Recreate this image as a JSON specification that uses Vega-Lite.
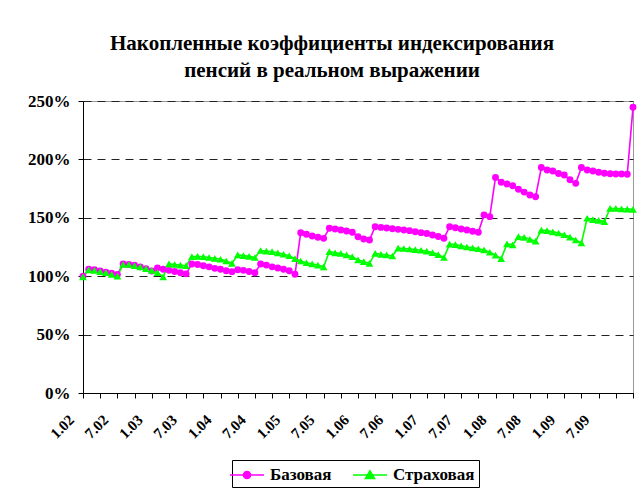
{
  "$schema": "https://vega.github.io/schema/vega-lite/v6.json",
  "autosize": "none",
  "width": 550,
  "height": 292,
  "padding": {"left": 83, "top": 101, "right": 8, "bottom": 98},
  "background": "white",
  "title": {
    "text": ["Накопленные коэффициенты индексирования", "пенсий в реальном выражении"],
    "font": "Liberation Serif", "fontSize": 21, "fontWeight": "bold", "color": "black",
    "anchor": "middle", "dx": -26, "offset": 11, "lineHeight": 27
  },
  "datasets": {
    "pens": [
      {"m":"1.02","s":"Базовая","v":100},{"m":"2.02","s":"Базовая","v":106},{"m":"3.02","s":"Базовая","v":105.5},{"m":"4.02","s":"Базовая","v":104.5},{"m":"5.02","s":"Базовая","v":103.5},{"m":"6.02","s":"Базовая","v":102.5},{"m":"7.02","s":"Базовая","v":101.5},{"m":"8.02","s":"Базовая","v":110.5},{"m":"9.02","s":"Базовая","v":110},{"m":"10.02","s":"Базовая","v":109.5},{"m":"11.02","s":"Базовая","v":108},{"m":"12.02","s":"Базовая","v":106.5},
      {"m":"1.03","s":"Базовая","v":104.5},{"m":"2.03","s":"Базовая","v":107},{"m":"3.03","s":"Базовая","v":106},{"m":"4.03","s":"Базовая","v":105},{"m":"5.03","s":"Базовая","v":104},{"m":"6.03","s":"Базовая","v":103},{"m":"7.03","s":"Базовая","v":102},{"m":"8.03","s":"Базовая","v":110.5},{"m":"9.03","s":"Базовая","v":110},{"m":"10.03","s":"Базовая","v":109},{"m":"11.03","s":"Базовая","v":108},{"m":"12.03","s":"Базовая","v":106.7},
      {"m":"1.04","s":"Базовая","v":105.9},{"m":"2.04","s":"Базовая","v":104.7},{"m":"3.04","s":"Базовая","v":103.9},{"m":"4.04","s":"Базовая","v":105.5},{"m":"5.04","s":"Базовая","v":105},{"m":"6.04","s":"Базовая","v":104},{"m":"7.04","s":"Базовая","v":103},{"m":"8.04","s":"Базовая","v":110.4},{"m":"9.04","s":"Базовая","v":109.5},{"m":"10.04","s":"Базовая","v":108},{"m":"11.04","s":"Базовая","v":107},{"m":"12.04","s":"Базовая","v":105.9},
      {"m":"1.05","s":"Базовая","v":104.7},{"m":"2.05","s":"Базовая","v":101.6},{"m":"3.05","s":"Базовая","v":137.3},{"m":"4.05","s":"Базовая","v":135.9},{"m":"5.05","s":"Базовая","v":134.4},{"m":"6.05","s":"Базовая","v":133.3},{"m":"7.05","s":"Базовая","v":132.4},{"m":"8.05","s":"Базовая","v":141},{"m":"9.05","s":"Базовая","v":140.4},{"m":"10.05","s":"Базовая","v":139.5},{"m":"11.05","s":"Базовая","v":138.7},{"m":"12.05","s":"Базовая","v":137.6},
      {"m":"1.06","s":"Базовая","v":133.8},{"m":"2.06","s":"Базовая","v":131.8},{"m":"3.06","s":"Базовая","v":131},{"m":"4.06","s":"Базовая","v":142.4},{"m":"5.06","s":"Базовая","v":141.8},{"m":"6.06","s":"Базовая","v":141.3},{"m":"7.06","s":"Базовая","v":140.7},{"m":"8.06","s":"Базовая","v":140.1},{"m":"9.06","s":"Базовая","v":139.5},{"m":"10.06","s":"Базовая","v":139},{"m":"11.06","s":"Базовая","v":138.1},{"m":"12.06","s":"Базовая","v":137.3},
      {"m":"1.07","s":"Базовая","v":136.5},{"m":"2.07","s":"Базовая","v":135.2},{"m":"3.07","s":"Базовая","v":134},{"m":"4.07","s":"Базовая","v":132.5},{"m":"5.07","s":"Базовая","v":142.4},{"m":"6.07","s":"Базовая","v":141.5},{"m":"7.07","s":"Базовая","v":140.4},{"m":"8.07","s":"Базовая","v":139.5},{"m":"9.07","s":"Базовая","v":138.5},{"m":"10.07","s":"Базовая","v":137.6},{"m":"11.07","s":"Базовая","v":152.5},{"m":"12.07","s":"Базовая","v":151},
      {"m":"1.08","s":"Базовая","v":184.5},{"m":"2.08","s":"Базовая","v":180.5},{"m":"3.08","s":"Базовая","v":179},{"m":"4.08","s":"Базовая","v":177.5},{"m":"5.08","s":"Базовая","v":174.5},{"m":"6.08","s":"Базовая","v":172},{"m":"7.08","s":"Базовая","v":169.5},{"m":"8.08","s":"Базовая","v":168},{"m":"9.08","s":"Базовая","v":193},{"m":"10.08","s":"Базовая","v":191},{"m":"11.08","s":"Базовая","v":190},{"m":"12.08","s":"Базовая","v":188},
      {"m":"1.09","s":"Базовая","v":186.6},{"m":"2.09","s":"Базовая","v":182.5},{"m":"3.09","s":"Базовая","v":179.5},{"m":"4.09","s":"Базовая","v":193},{"m":"5.09","s":"Базовая","v":191},{"m":"6.09","s":"Базовая","v":190},{"m":"7.09","s":"Базовая","v":189},{"m":"8.09","s":"Базовая","v":188.2},{"m":"9.09","s":"Базовая","v":187.7},{"m":"10.09","s":"Базовая","v":187.5},{"m":"11.09","s":"Базовая","v":187.5},{"m":"12.09","s":"Базовая","v":187.3},
      {"m":"1.10","s":"Базовая","v":244.6},
      {"m":"1.02","s":"Страховая","v":99.5},{"m":"2.02","s":"Страховая","v":105.5},{"m":"3.02","s":"Страховая","v":105},{"m":"4.02","s":"Страховая","v":104},{"m":"5.02","s":"Страховая","v":103},{"m":"6.02","s":"Страховая","v":101.5},{"m":"7.02","s":"Страховая","v":100},{"m":"8.02","s":"Страховая","v":110},{"m":"9.02","s":"Страховая","v":110},{"m":"10.02","s":"Страховая","v":109},{"m":"11.02","s":"Страховая","v":108},{"m":"12.02","s":"Страховая","v":106.5},
      {"m":"1.03","s":"Страховая","v":105},{"m":"2.03","s":"Страховая","v":103},{"m":"3.03","s":"Страховая","v":99.5},{"m":"4.03","s":"Страховая","v":110.5},{"m":"5.03","s":"Страховая","v":110},{"m":"6.03","s":"Страховая","v":109.5},{"m":"7.03","s":"Страховая","v":109},{"m":"8.03","s":"Страховая","v":116.7},{"m":"9.03","s":"Страховая","v":117},{"m":"10.03","s":"Страховая","v":116.7},{"m":"11.03","s":"Страховая","v":116},{"m":"12.03","s":"Страховая","v":115.3},
      {"m":"1.04","s":"Страховая","v":114.5},{"m":"2.04","s":"Страховая","v":113},{"m":"3.04","s":"Страховая","v":111},{"m":"4.04","s":"Страховая","v":118.2},{"m":"5.04","s":"Страховая","v":117.6},{"m":"6.04","s":"Страховая","v":117},{"m":"7.04","s":"Страховая","v":116},{"m":"8.04","s":"Страховая","v":122},{"m":"9.04","s":"Страховая","v":121.5},{"m":"10.04","s":"Страховая","v":121},{"m":"11.04","s":"Страховая","v":120},{"m":"12.04","s":"Страховая","v":118.8},
      {"m":"1.05","s":"Страховая","v":117.5},{"m":"2.05","s":"Страховая","v":115},{"m":"3.05","s":"Страховая","v":113},{"m":"4.05","s":"Страховая","v":111.5},{"m":"5.05","s":"Страховая","v":110.5},{"m":"6.05","s":"Страховая","v":109.5},{"m":"7.05","s":"Страховая","v":108},{"m":"8.05","s":"Страховая","v":121},{"m":"9.05","s":"Страховая","v":120},{"m":"10.05","s":"Страховая","v":119.5},{"m":"11.05","s":"Страховая","v":118.2},{"m":"12.05","s":"Страховая","v":116.7},
      {"m":"1.06","s":"Страховая","v":114},{"m":"2.06","s":"Страховая","v":112.4},{"m":"3.06","s":"Страховая","v":111},{"m":"4.06","s":"Страховая","v":119.6},{"m":"5.06","s":"Страховая","v":118.7},{"m":"6.06","s":"Страховая","v":118.2},{"m":"7.06","s":"Страховая","v":117.3},{"m":"8.06","s":"Страховая","v":124},{"m":"9.06","s":"Страховая","v":123.7},{"m":"10.06","s":"Страховая","v":123.3},{"m":"11.06","s":"Страховая","v":122.8},{"m":"12.06","s":"Страховая","v":122.2},
      {"m":"1.07","s":"Страховая","v":121.4},{"m":"2.07","s":"Страховая","v":120.2},{"m":"3.07","s":"Страховая","v":118.5},{"m":"4.07","s":"Страховая","v":116},{"m":"5.07","s":"Страховая","v":127.5},{"m":"6.07","s":"Страховая","v":127},{"m":"7.07","s":"Страховая","v":126},{"m":"8.07","s":"Страховая","v":125},{"m":"9.07","s":"Страховая","v":124.3},{"m":"10.07","s":"Страховая","v":123.5},{"m":"11.07","s":"Страховая","v":122.5},{"m":"12.07","s":"Страховая","v":120.5},
      {"m":"1.08","s":"Страховая","v":118},{"m":"2.08","s":"Страховая","v":115},{"m":"3.08","s":"Страховая","v":127.6},{"m":"4.08","s":"Страховая","v":126.8},{"m":"5.08","s":"Страховая","v":133.8},{"m":"6.08","s":"Страховая","v":133.3},{"m":"7.08","s":"Страховая","v":131.6},{"m":"8.08","s":"Страховая","v":130},{"m":"9.08","s":"Страховая","v":139.5},{"m":"10.08","s":"Страховая","v":139},{"m":"11.08","s":"Страховая","v":138},{"m":"12.08","s":"Страховая","v":137},
      {"m":"1.09","s":"Страховая","v":135.5},{"m":"2.09","s":"Страховая","v":133.5},{"m":"3.09","s":"Страховая","v":131},{"m":"4.09","s":"Страховая","v":128.5},{"m":"5.09","s":"Страховая","v":149.6},{"m":"6.09","s":"Страховая","v":148.5},{"m":"7.09","s":"Страховая","v":147.8},{"m":"8.09","s":"Страховая","v":146.7},{"m":"9.09","s":"Страховая","v":158},{"m":"10.09","s":"Страховая","v":158},{"m":"11.09","s":"Страховая","v":157.7},{"m":"12.09","s":"Страховая","v":157.5},
      {"m":"1.10","s":"Страховая","v":157.3}
    ]
  },
  "data": {"name": "pens"},
  "encoding": {
    "x": {
      "field": "m", "type": "ordinal", "sort": null,
      "scale": {"type": "point", "padding": 0},
      "axis": {
        "title": null,
        "values": ["1.02","4.02","7.02","10.02","1.03","4.03","7.03","10.03","1.04","4.04","7.04","10.04","1.05","4.05","7.05","10.05","1.06","4.06","7.06","10.06","1.07","4.07","7.07","10.07","1.08","4.08","7.08","10.08","1.09","4.09","7.09","10.09","1.10"],
        "labelExpr": "(indexof(datum.value, '1.') === 0 || indexof(datum.value, '7.') === 0) && datum.value !== '1.10' ? datum.value : ''",
        "labelAngle": -45, "labelAlign": "right", "labelBaseline": "middle",
        "labelFont": "Liberation Serif", "labelFontWeight": "bold", "labelFontSize": 15, "labelColor": "black",
        "labelPadding": 19, "labelOffset": -12,
        "tickSize": 5, "tickColor": "black", "domainColor": "black", "grid": false,
        "labelOverlap": false
      }
    },
    "y": {
      "field": "v", "type": "quantitative",
      "scale": {"domain": [0, 250], "nice": false},
      "axis": {
        "title": null, "values": [0, 50, 100, 150, 200, 250],
        "labelExpr": "datum.value + '%'",
        "labelFont": "Liberation Serif", "labelFontWeight": "bold", "labelFontSize": 17, "labelColor": "black",
        "labelPadding": 8, "tickSize": 5, "tickColor": "black", "domainColor": "black",
        "grid": true, "gridColor": "#222222", "gridDash": [8, 6], "gridWidth": 1
      }
    },
    "color": {
      "field": "s", "type": "nominal", "sort": null,
      "scale": {"domain": ["Базовая", "Страховая"], "range": ["#FF00FF", "#00FF00"]},
      "legend": {
        "orient": "none", "legendX": 149, "legendY": 359, "direction": "horizontal",
        "title": null, "strokeColor": "black", "padding": 4,
        "labelFont": "Liberation Serif", "labelFontWeight": "bold", "labelFontSize": 17, "labelColor": "black",
        "symbolSize": 400, "labelOffset": 12, "columnPadding": 17,
        "encode": {
          "symbols": {
            "update": {
              "shape": {"signal": "datum.value === 'Базовая' ? 'M-1.7,0L1.7,0M0.35,0A0.35,0.35,0,1,1,-0.35,0A0.35,0.35,0,1,1,0.35,0Z' : 'M-1.7,0L1.7,0M0,-0.42L0.45,0.35L-0.45,0.35Z'"},
              "fill": {"signal": "datum.value === 'Базовая' ? '#FF00FF' : '#00FF00'"},
              "stroke": {"signal": "datum.value === 'Базовая' ? '#FF00FF' : '#00FF00'"},
              "strokeWidth": {"value": 1.6},
              "opacity": {"value": 1}
            }
          }
        }
      }
    }
  },
  "layer": [
    {"mark": {"type": "line", "strokeWidth": 1.6}},
    {
      "transform": [{"filter": "datum.s === 'Базовая'"}],
      "mark": {"type": "point", "shape": "circle", "filled": true, "opacity": 1, "size": 48}
    },
    {
      "transform": [{"filter": "datum.s === 'Страховая'"}],
      "mark": {"type": "point", "shape": "triangle-up", "filled": true, "opacity": 1, "size": 60}
    }
  ],
  "config": {
    "view": {"stroke": "#999999", "strokeWidth": 1}
  }
}
